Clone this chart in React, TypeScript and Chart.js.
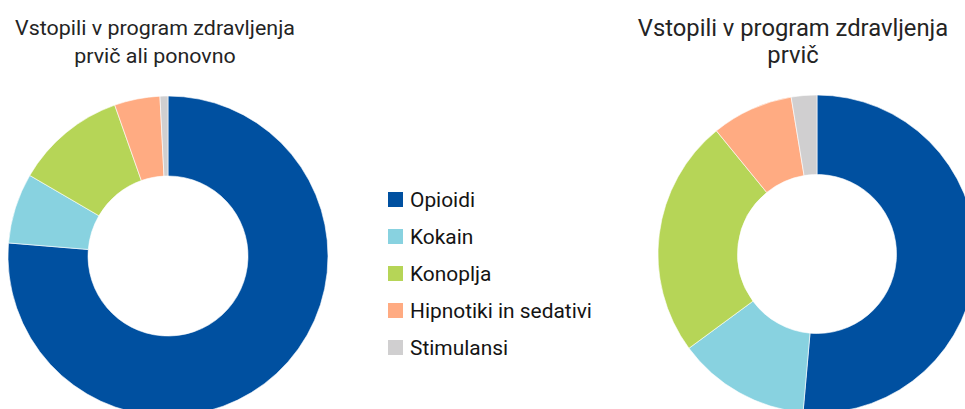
import React, { useEffect, useRef } from "react";
import { Chart, registerables } from "chart.js";

Chart.register(...registerables);

const categories = ["Opioidi", "Kokain", "Konoplja", "Hipnotiki in sedativi", "Stimulansi"];
const colors = ["#0050A0", "#88D2E0", "#B6D557", "#FFAB82", "#D0CFD0"];
const valuesAll = [76.3, 7.1, 11.2, 4.6, 0.8];
const valuesFirst = [51.4, 13.5, 24.2, 8.3, 2.6];
const titleAll = ["Vstopili v program zdravljenja", "prvič ali ponovno"];
const titleFirst = ["Vstopili v program zdravljenja", "prvič"];

function Doughnut({ values, left, top, size }: { values: number[]; left: number; top: number; size: number }) {
  const ref = useRef<HTMLCanvasElement | null>(null);
  useEffect(() => {
    if (!ref.current) return;
    const chart = new Chart(ref.current, {
      type: "doughnut",
      data: {
        labels: categories,
        datasets: [
          {
            data: values,
            backgroundColor: colors,
            borderColor: "#ffffff",
            borderWidth: 0.6,
            hoverOffset: 0,
          },
        ],
      },
      options: {
        responsive: false,
        animation: false,
        cutout: "50%",
        radius: size / 2,
        layout: { padding: 0 },
        plugins: { legend: { display: false }, tooltip: { enabled: false }, title: { display: false } },
      },
    });
    return () => chart.destroy();
  }, [values, size]);
  return (
    <canvas
      ref={ref}
      width={size}
      height={size}
      style={{ position: "absolute", left, top, width: size, height: size }}
    />
  );
}

function Title({ lines, cx, top, fontSize, lineHeight, scale }: { lines: string[]; cx: number; top: number; fontSize: number; lineHeight: number; scale: number }) {
  return (
    <div
      style={{
        position: "absolute",
        left: cx - 250,
        top,
        width: 500,
        textAlign: "center",
        fontFamily: "Roboto, sans-serif",
        fontSize,
        lineHeight: lineHeight + "px",
        color: "#242424",
        transform: `scaleX(${scale})`,
        transformOrigin: "center top",
        whiteSpace: "nowrap",
      }}
    >
      {lines.map((l, i) => (
        <div key={i}>{l}</div>
      ))}
    </div>
  );
}

export default function App() {
  return (
    <div
      style={{
        position: "fixed",
        left: 0,
        top: 0,
        width: 965,
        height: 409,
        overflow: "hidden",
        background: "#ffffff",
      }}
    >
      <Title lines={titleAll} cx={155} top={14} fontSize={21} lineHeight={28} scale={1.02} />
      <Title lines={titleFirst} cx={793} top={15} fontSize={24} lineHeight={27} scale={0.99} />
      <Doughnut values={valuesAll} left={8} top={96} size={320} />
      <Doughnut values={valuesFirst} left={658} top={95} size={318} />
      <div style={{ position: "absolute", left: 388, top: 181, fontFamily: "Roboto, sans-serif", fontSize: 20, color: "#141414" }}>
        {categories.map((c, i) => (
          <div key={c} style={{ display: "flex", alignItems: "center", height: 37, whiteSpace: "nowrap" }}>
            <span style={{ display: "inline-block", width: 15, height: 15, background: colors[i], marginRight: 7 }} />
            <span style={{ display: "inline-block", transform: "scaleX(1.045)", transformOrigin: "left center" }}>{c}</span>
          </div>
        ))}
      </div>
    </div>
  );
}
